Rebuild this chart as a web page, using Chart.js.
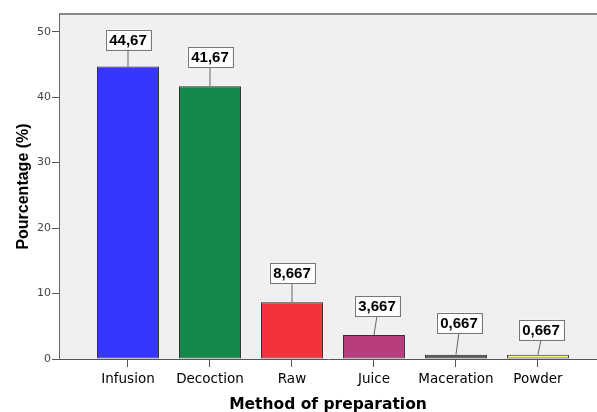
<!DOCTYPE html>
<html>
<head>
<meta charset="utf-8">
<script src="https://cdn.jsdelivr.net/npm/chart.js@4/dist/chart.umd.min.js"></script>
<style>
    html, body { margin: 0; padding: 0; background: #ffffff; }
    #wrap { width: 597px; height: 412px; position: relative; }
</style>
</head>
<body>
<div id="wrap"><canvas id="barPlot"></canvas></div>
<script>
// data
const categories = ["Infusion", "Decoction", "Raw", "Juice", "Maceration", "Powder"];
const percentages = [44.67, 41.67, 8.667, 3.667, 0.667, 0.667];
const valueLabels = ["44,67", "41,67", "8,667", "3,667", "0,667", "0,667"];
const yTicks = [0, 10, 20, 30, 40, 50];

const barColors = ["#3636ff", "#12894a", "#f2333c", "#b93c7c", "#555555", "#f0ef6c"];
// leader line length and sideways nudge of each label box
const leaderLen = [17, 19, 19, 19, 22, 15];
const leaderDx = [0, 0, 0, 3, 3, 3];

const ARIAL = "'Liberation Sans', Arial, sans-serif";
const WIDE = "'DejaVu Sans', Verdana, sans-serif";

const plotFrame = {
    id: "plotFrame",
    beforeDraw(chart) {
        const { ctx, chartArea: a } = chart;
        ctx.save();
        ctx.fillStyle = "#f0f0f0";
        ctx.fillRect(a.left, a.top, a.right - a.left, a.bottom - a.top);
        ctx.strokeStyle = "#8a8a8a";
        ctx.lineWidth = 2;
        ctx.beginPath();
        ctx.moveTo(a.left, a.top);
        ctx.lineTo(a.right, a.top);
        ctx.stroke();
        ctx.restore();
    },
};

const boxLabels = {
    id: "boxLabels",
    afterDatasetsDraw(chart) {
        const { ctx } = chart;
        const bars = chart.getDatasetMeta(0).data;
        ctx.save();
        ctx.font = "bold 15px " + ARIAL;
        ctx.textAlign = "center";
        ctx.textBaseline = "middle";
        bars.forEach((bar, i) => {
            const x = bar.x;
            const top = bar.y;
            const bx = x + leaderDx[i];
            const boxBottom = top - leaderLen[i];
            const h = 20;
            const w = ctx.measureText(valueLabels[i]).width + 7;

            ctx.strokeStyle = "#666666";
            ctx.lineWidth = 1;
            ctx.beginPath();
            ctx.moveTo(x, top);
            ctx.lineTo(bx, boxBottom);
            ctx.stroke();

            ctx.fillStyle = "#ffffff";
            ctx.fillRect(bx - w / 2, boxBottom - h, w, h);
            ctx.strokeStyle = "#777777";
            ctx.strokeRect(Math.round(bx - w / 2) + 0.5, Math.round(boxBottom - h) + 0.5, Math.round(w), h);

            ctx.fillStyle = "#000000";
            ctx.fillText(valueLabels[i], bx, boxBottom - h / 2 + 1);
        });
        ctx.restore();
    },
};

new Chart(document.getElementById("barPlot"), {
    type: "bar",
    data: {
        datasets: [
            {
                label: "Pourcentage",
                data: percentages.map((v, i) => ({ x: i + 1, y: v })),
                backgroundColor: barColors,
                borderColor: "#333333",
                borderWidth: 1,
                borderSkipped: false,
                barPercentage: 0.756,
                categoryPercentage: 1,
            },
        ],
    },
    options: {
        responsive: true,
        maintainAspectRatio: false,
        animation: false,
        layout: { padding: { top: 14, left: 0, right: 0, bottom: 0 } },
        plugins: {
            legend: { display: false },
            tooltip: { enabled: false },
        },
        scales: {
            x: {
                type: "linear",
                offset: false,
                min: 0.1585,
                max: 6.72,
                afterBuildTicks: (scale) => {
                    scale.ticks = categories.map((c, i) => ({ value: i + 1 }));
                },
                afterFit: (scale) => {
                    scale.height = 53;
                },
                grid: {
                    offset: false,
                    drawOnChartArea: false,
                    drawTicks: true,
                    tickLength: 8,
                    tickColor: "#555555",
                },
                border: { display: true, color: "#555555", width: 1 },
                ticks: {
                    autoSkip: false,
                    maxRotation: 0,
                    padding: 4,
                    color: "#000000",
                    font: { family: WIDE, size: 13.5 },
                    callback: (v) => categories[v - 1],
                },
                title: {
                    display: true,
                    text: "Method of preparation",
                    color: "#000000",
                    font: { family: WIDE, size: 15.5, weight: "bold" },
                    padding: { top: 0, bottom: -2 },
                },
            },
            y: {
                min: 0,
                max: 52.7,
                afterBuildTicks: (scale) => {
                    scale.ticks = yTicks.map((v) => ({ value: v }));
                },
                afterFit: (scale) => {
                    scale.width = 59;
                },
                grid: {
                    drawOnChartArea: false,
                    drawTicks: true,
                    tickLength: 7,
                    tickColor: "#555555",
                },
                border: { display: true, color: "#666666", width: 1 },
                ticks: {
                    padding: 1,
                    color: "#444444",
                    font: { family: WIDE, size: 11 },
                },
                title: {
                    display: true,
                    text: "Pourcentage (%)",
                    color: "#000000",
                    font: { family: ARIAL, size: 16, weight: "bold" },
                    padding: { top: 14, bottom: 0 },
                },
            },
        },
    },
    plugins: [plotFrame, boxLabels],
});
</script>
</body>
</html>
